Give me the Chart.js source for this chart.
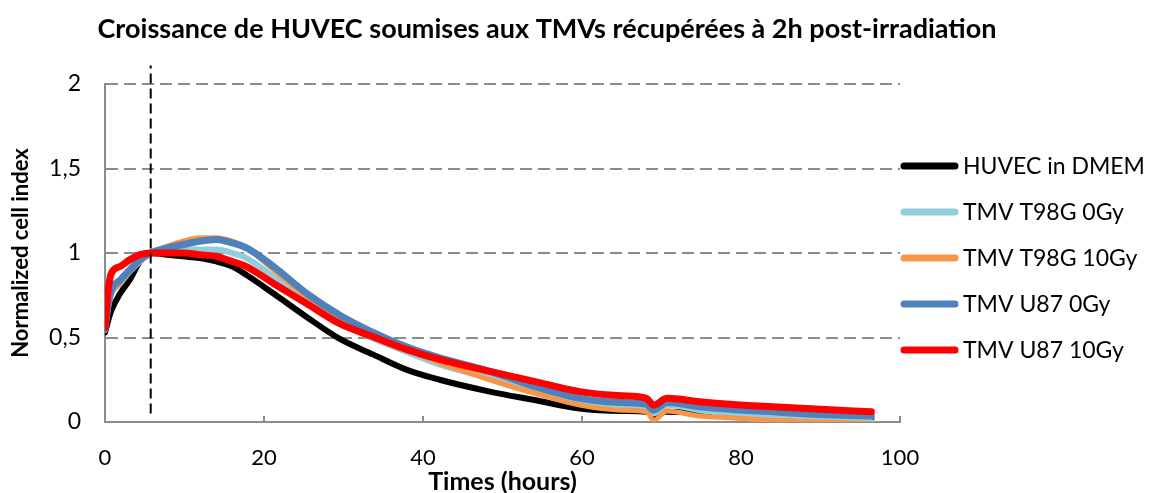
<!DOCTYPE html>
<html lang="fr">
<head>
<meta charset="utf-8">
<title>Croissance HUVEC</title>
<script src="https://cdn.jsdelivr.net/npm/chart.js@4.4.1/dist/chart.umd.min.js"></script>
<style>
  html, body { margin: 0; padding: 0; background: #fff; }
  #wrap { width: 1152px; height: 493px; position: relative; }
</style>
</head>
<body>
<div id="wrap"><canvas id="graphique"></canvas></div>
<script>
// Temps de mesure (heures)
const temps = [0, 0.4, 0.8, 1.9, 3.1, 4.4, 5.75, 7.8, 9.8, 11.9, 14, 16, 17.8, 21.2, 25.4,
  29.6, 33.7, 37.9, 42.1, 48.4, 54, 59.7, 65, 68.1, 69, 70.7, 74.8, 78.6, 84, 90, 96.4];

// Index cellulaire normalisé pour chaque condition
const huvecDmem = [0.53, 0.60, 0.66, 0.76, 0.84, 0.95, 1.0, 0.99, 0.98, 0.97, 0.95, 0.92, 0.87, 0.76, 0.62,
  0.49, 0.40, 0.31, 0.25, 0.18, 0.13, 0.08, 0.065, 0.06, 0.04, 0.06, 0.055, 0.05, 0.04, 0.03, 0.015];
const t98g0 = [0.55, 0.68, 0.76, 0.82, 0.89, 0.95, 1.0, 1.02, 1.02, 1.02, 1.02, 1.0, 0.97, 0.86, 0.72,
  0.59, 0.495, 0.415, 0.34, 0.26, 0.18, 0.12, 0.10, 0.09, 0.05, 0.10, 0.07, 0.05, 0.035, 0.02, 0.0];
const t98g10 = [0.54, 0.68, 0.76, 0.82, 0.89, 0.95, 1.0, 1.04, 1.07, 1.09, 1.09, 1.07, 1.03, 0.90, 0.74,
  0.60, 0.51, 0.43, 0.35, 0.25, 0.17, 0.10, 0.07, 0.06, 0.01, 0.065, 0.035, 0.025, 0.01, 0.0, -0.01];
const u870 = [0.55, 0.70, 0.78, 0.84, 0.90, 0.96, 1.0, 1.03, 1.05, 1.07, 1.08, 1.06, 1.03, 0.92, 0.76,
  0.63, 0.53, 0.445, 0.38, 0.30, 0.21, 0.14, 0.115, 0.105, 0.07, 0.115, 0.09, 0.075, 0.06, 0.045, 0.035];
const u8710 = [0.56, 0.78, 0.88, 0.92, 0.96, 0.99, 1.0, 1.0, 1.0, 0.99, 0.98, 0.95, 0.92, 0.82, 0.70,
  0.58, 0.505, 0.43, 0.37, 0.30, 0.24, 0.18, 0.155, 0.14, 0.10, 0.14, 0.12, 0.105, 0.09, 0.075, 0.06];

// Heure de l'ajout des TMVs (ligne pointillée) et son étendue verticale
const heureAjout = [5.75, 5.75];
const bornesAjout = [0.05, 2.11];

const titre = "Croissance de HUVEC soumises aux TMVs récupérées à 2h post-irradiation";

const series = [
  { label: "HUVEC in DMEM", valeurs: huvecDmem, couleur: "#000000", largeur: 6, ordre: 5 },
  { label: "TMV T98G 0Gy", valeurs: t98g0, couleur: "#92CDDC", largeur: 6, ordre: 4 },
  { label: "TMV T98G 10Gy", valeurs: t98g10, couleur: "#F79646", largeur: 5, ordre: 3 },
  { label: "TMV U87 0Gy", valeurs: u870, couleur: "#4F81BD", largeur: 7, ordre: 2 },
  { label: "TMV U87 10Gy", valeurs: u8710, couleur: "#FF0000", largeur: 7, ordre: 1 }
];

function points(valeurs) {
  return temps.map((t, i) => ({ x: t, y: valeurs[i] }));
}

const datasets = series.map(s => ({
  label: s.label,
  data: points(s.valeurs),
  borderColor: s.couleur,
  backgroundColor: s.couleur,
  borderWidth: s.largeur,
  pointRadius: 0,
  cubicInterpolationMode: "monotone",
  borderCapStyle: "round",
  borderJoinStyle: "round",
  order: s.ordre
}));

datasets.push({
  label: "",
  data: heureAjout.map((h, i) => ({ x: h, y: bornesAjout[i] })),
  borderColor: "#000000",
  borderWidth: 2,
  borderDash: [10, 5],
  pointRadius: 0,
  clip: false,
  order: 0
});

// Titre centré un peu à gauche du milieu, comme dans la figure d'origine
const titreFigure = {
  id: "titreFigure",
  afterDraw(chart, args, opts) {
    const ctx = chart.ctx;
    ctx.save();
    ctx.font = opts.font;
    ctx.fillStyle = "#000";
    ctx.textAlign = "center";
    ctx.textBaseline = "middle";
    ctx.fillText(opts.text, opts.x, opts.y);
    ctx.restore();
  }
};

// Légende dessinée à la main : trait épais arrondi + libellé
const legendeTraits = {
  id: "legendeTraits",
  afterDraw(chart, args, opts) {
    const ctx = chart.ctx;
    let y = opts.top;
    ctx.save();
    ctx.font = opts.font;
    ctx.textBaseline = "middle";
    ctx.textAlign = "left";
    chart.data.datasets.forEach(ds => {
      if (!ds.label) return;
      ctx.beginPath();
      ctx.lineCap = "round";
      ctx.lineWidth = 7;
      ctx.strokeStyle = ds.borderColor;
      ctx.moveTo(opts.left, y);
      ctx.lineTo(opts.left + opts.longueur, y);
      ctx.stroke();
      ctx.fillStyle = "#000";
      ctx.fillText(ds.label, opts.left + opts.longueur + opts.ecart, y + 1);
      y += opts.pas;
    });
    ctx.restore();
  }
};

const gris = "#8c8c8c";

function dessiner() {
  new Chart(document.getElementById("graphique"), {
    type: "line",
    data: { datasets },
    plugins: [legendeTraits, titreFigure],
    options: {
      responsive: true,
      maintainAspectRatio: false,
      animation: false,
      layout: { padding: { left: 0, right: 252, top: 84, bottom: 0 } },
      plugins: {
        legend: { display: false },
        tooltip: { enabled: false },
        title: { display: false },
        titreFigure: { text: titre, x: 547, y: 29, font: "bold 27px Lato" },
        legendeTraits: {
          left: 904, longueur: 51, ecart: 8, top: 166, pas: 46,
          font: "23px Lato"
        }
      },
      scales: {
        x: {
          type: "linear",
          min: 0,
          max: 100,
          ticks: { stepSize: 20, color: "#000", font: { family: "Lato", size: 22 }, padding: 29 },
          grid: { drawOnChartArea: false, drawTicks: true, tickLength: -6, color: gris, lineWidth: 2 },
          border: { color: gris, width: 2 },
          title: {
            display: true,
            text: "Times (hours)",
            color: "#000",
            font: { family: "Lato", size: 25, weight: "bold", lineHeight: 0.9 },
            padding: { top: 0, bottom: 0 }
          },
          afterFit(scale) { scale.height = 71; }
        },
        y: {
          min: 0,
          max: 2,
          ticks: {
            stepSize: 0.5,
            color: "#000",
            font: { family: "Lato", size: 23 },
            padding: 24,
            callback: v => String(v).replace(".", ",")
          },
          grid: {
            drawTicks: false,
            lineWidth: 2,
            color: c => (c.tick && c.tick.value === 0 ? "rgba(0,0,0,0)" : gris)
          },
          border: { color: gris, width: 2, dash: [12, 6] },
          title: {
            display: true,
            text: "Normalized cell index",
            color: "#000",
            font: { family: "Lato", size: 22, weight: "bold" },
            padding: { top: 8, bottom: 0 }
          },
          afterFit(scale) { scale.width = 105; }
        }
      }
    }
  });
}

document.fonts.load("bold 24px Lato").then(dessiner, dessiner);
</script>
</body>
</html>
